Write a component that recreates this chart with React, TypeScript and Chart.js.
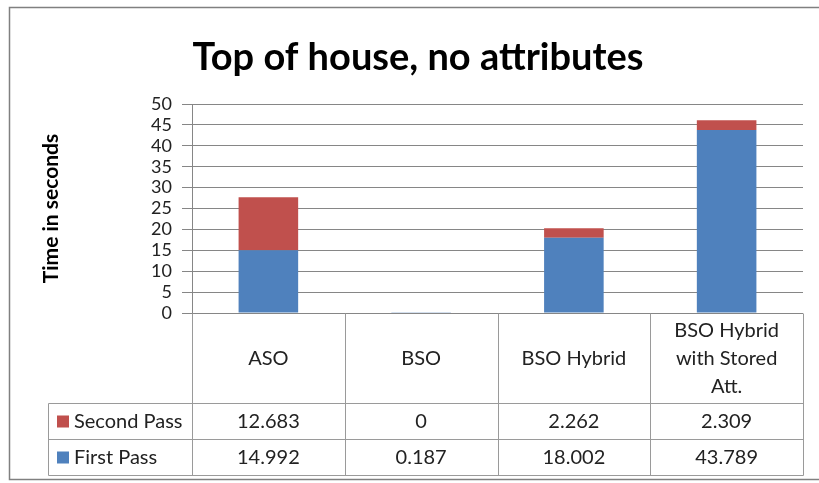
import { useEffect, useRef } from "react";
import { Chart, registerables } from "chart.js";

Chart.register(...registerables);

// ---- data ----
const chartTitle = "Top of house, no attributes";
const axisTitle = "Time in seconds";
const categories: string[][] = [
  ["ASO"],
  ["BSO"],
  ["BSO Hybrid"],
  ["BSO Hybrid", "with Stored", "Att."],
];
const firstPass = [14.992, 0.187, 18.002, 43.789];
const secondPass = [12.683, 0, 2.262, 2.309];
const yTicks = { min: 0, max: 50, step: 5 };

const BLUE = "#4F81BD";
const RED = "#C0504D";
const FONT = "Lato, 'Open Sans', sans-serif";
const GRID = "#868686";
const TABLE_LINE = "#9a9a9a";

// Draws the outer frame, the title and the data table under the plot.
const decorPlugin = {
  id: "decor",
  afterDraw(chart: any) {
    const { ctx, chartArea, scales } = chart;
    const xs = scales.x;
    const n = chart.data.labels.length;
    const colW = (chartArea.right - chartArea.left) / n;
    const edges: number[] = [];
    for (let i = 0; i < n; i++) edges.push(xs.getPixelForValue(i) - colW / 2);
    edges.push(xs.getPixelForValue(n - 1) + colW / 2);

    ctx.save();

    // frame
    ctx.strokeStyle = "#808080";
    ctx.lineWidth = 1.5;
    ctx.strokeRect(9.5, 7.5, 812, 472);

    // title
    ctx.fillStyle = "#000";
    ctx.font = `bold 38px ${FONT}`;
    ctx.textAlign = "center";
    ctx.textBaseline = "alphabetic";
    ctx.fillText(chartTitle, 418, 70);

    // table geometry
    const top = Math.round(chartArea.bottom) + 0.5;
    const headerBottom = top + 90;
    const rowBottoms = [headerBottom + 36, headerBottom + 72];
    const tableLeft = 48.5;
    const right = Math.round(edges[n]) + 0.5;

    ctx.strokeStyle = TABLE_LINE;
    ctx.lineWidth = 1;
    ctx.beginPath();
    // horizontal rules
    ctx.moveTo(tableLeft, headerBottom);
    ctx.lineTo(right, headerBottom);
    for (const yb of rowBottoms) {
      ctx.moveTo(tableLeft, yb);
      ctx.lineTo(right, yb);
    }
    // vertical rules
    for (const e of edges) {
      const xe = Math.round(e) + 0.5;
      ctx.moveTo(xe, top);
      ctx.lineTo(xe, rowBottoms[1]);
    }
    ctx.moveTo(tableLeft, headerBottom);
    ctx.lineTo(tableLeft, rowBottoms[1]);
    ctx.stroke();

    // header labels
    ctx.fillStyle = "#222";
    ctx.font = `20px ${FONT}`;
    ctx.textAlign = "center";
    ctx.textBaseline = "middle";
    const headerMid = (top + headerBottom) / 2;
    const lineH = 28;
    categories.forEach((lines, i) => {
      const cx = xs.getPixelForValue(i);
      const y0 = headerMid - ((lines.length - 1) * lineH) / 2;
      lines.forEach((ln, j) => ctx.fillText(ln, cx, y0 + j * lineH));
    });

    // data rows
    const rows = [
      { name: "Second Pass", color: RED, values: secondPass },
      { name: "First Pass", color: BLUE, values: firstPass },
    ];
    rows.forEach((row, r) => {
      const yTop = r === 0 ? headerBottom : rowBottoms[0];
      const yMid = (yTop + rowBottoms[r]) / 2;
      ctx.fillStyle = row.color;
      ctx.fillRect(57, yMid - 6, 12, 12);
      ctx.fillStyle = "#222";
      ctx.textAlign = "left";
      ctx.fillText(row.name, 74, yMid);
      ctx.textAlign = "center";
      row.values.forEach((v, i) => ctx.fillText(String(v), xs.getPixelForValue(i), yMid));
    });

    ctx.restore();
  },
};

export default function App() {
  const ref = useRef<HTMLCanvasElement>(null);

  useEffect(() => {
    if (!ref.current) return;
    const chart = new Chart(ref.current, {
      type: "bar",
      data: {
        labels: categories.map((c) => c.join(" ")),
        datasets: [
          {
            label: "First Pass",
            data: firstPass,
            backgroundColor: BLUE,
            barPercentage: 0.39,
            categoryPercentage: 1,
          },
          {
            label: "Second Pass",
            data: secondPass,
            backgroundColor: RED,
            barPercentage: 0.39,
            categoryPercentage: 1,
          },
        ],
      },
      options: {
        animation: false,
        responsive: false,
        maintainAspectRatio: false,
        layout: { padding: { top: 104, bottom: 170, left: 0, right: 16 } },
        plugins: {
          legend: { display: false },
          tooltip: { enabled: false },
          title: { display: false },
        },
        scales: {
          x: { stacked: true, display: false },
          y: {
            stacked: true,
            min: yTicks.min,
            max: yTicks.max,
            afterFit: (s: any) => {
              s.width = 192;
            },
            ticks: {
              stepSize: yTicks.step,
              autoSkip: false,
              padding: 10,
              color: "#222",
              font: { family: FONT, size: 18 },
            },
            grid: { color: GRID, tickLength: 10, lineWidth: 1 },
            border: { display: true, color: GRID },
            title: {
              display: true,
              text: axisTitle,
              color: "#000",
              font: { family: FONT, size: 21, weight: "bold" },
              padding: { top: 39, bottom: 0 },
            },
          },
        },
      },
      plugins: [decorPlugin],
    });
    return () => chart.destroy();
  }, []);

  return (
    <div style={{ position: "absolute", left: 0, top: 0, width: 819, height: 483, background: "#fff" }}>
      <canvas ref={ref} width={819} height={483} />
    </div>
  );
}
